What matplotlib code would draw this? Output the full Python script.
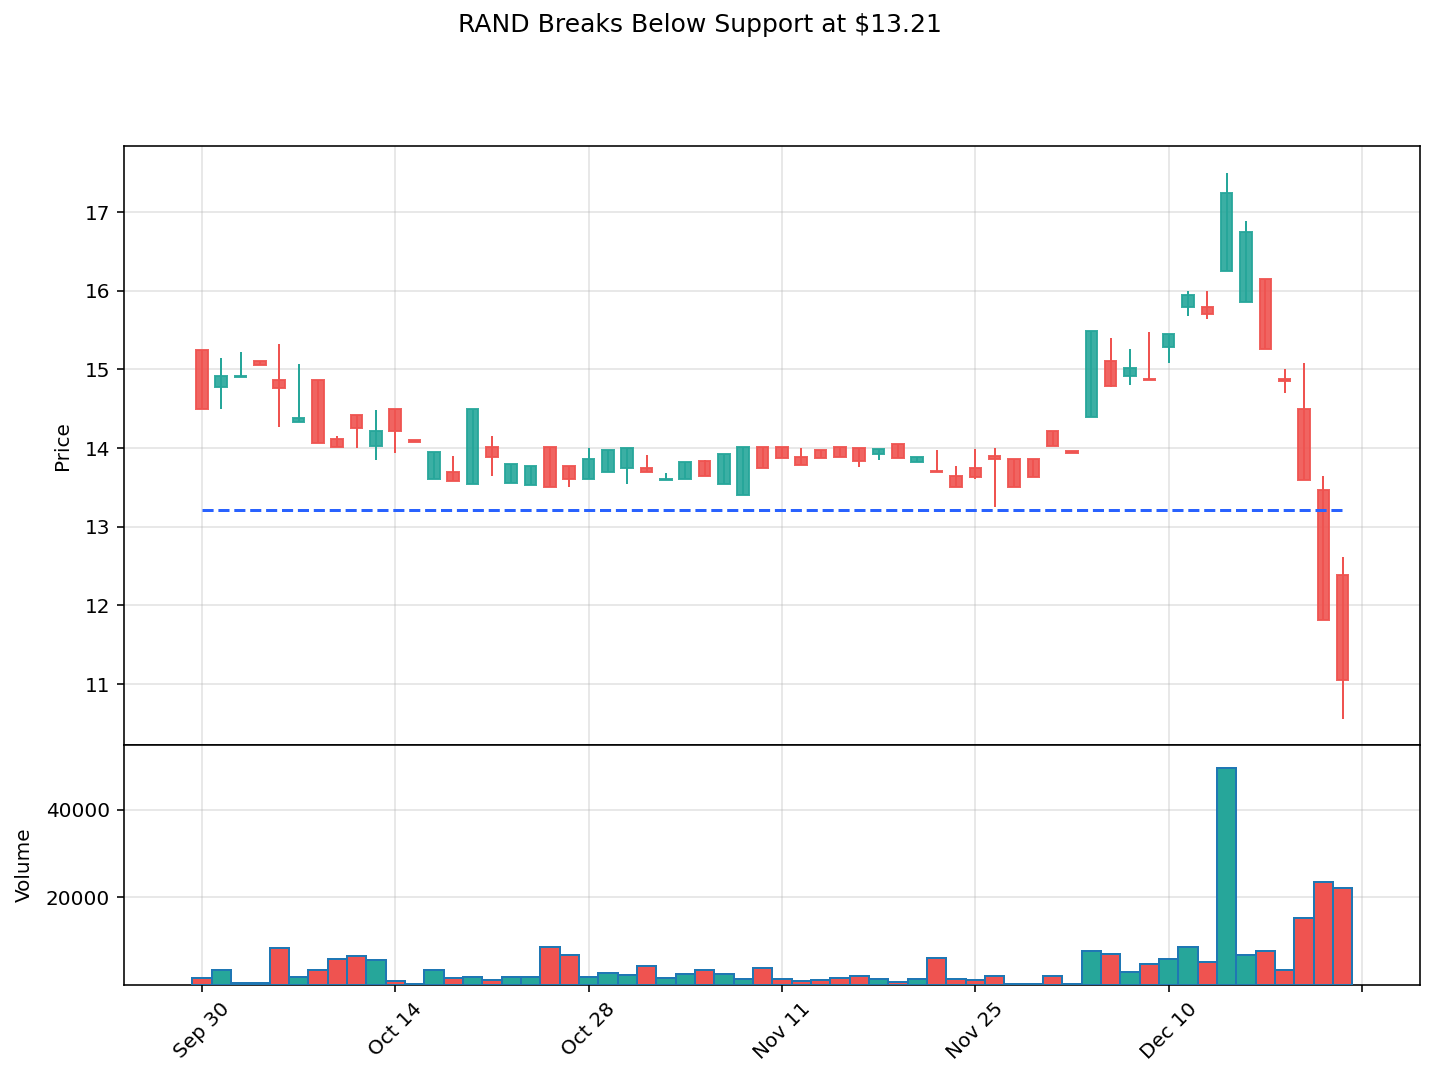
import matplotlib
matplotlib.use("Agg")
import matplotlib.pyplot as plt
import numpy as np
import pandas as pd

# ---- data ----
dates = [d for d in pd.bdate_range("2024-09-30", "2024-12-23") if d != pd.Timestamp("2024-11-28")]

opens = [15.24, 14.78, 14.90, 15.10, 14.86, 14.33, 14.86, 14.11, 14.42, 14.03,
         14.49, 14.10, 13.60, 13.70, 13.54, 14.01, 13.55, 13.53, 14.01, 13.77,
         13.61, 13.69, 13.74, 13.75, 13.59, 13.60, 13.83, 13.54, 13.40, 14.01,
         14.01, 13.88, 13.98, 14.01, 14.00, 13.92, 14.05, 13.82, 13.71, 13.65,
         13.75, 13.90, 13.86, 13.86, 14.22, 13.96, 14.39, 15.10, 14.91, 14.88,
         15.28, 15.79, 15.79, 16.25, 15.86, 16.15, 14.88, 14.50, 13.47, 12.39]
highs = [15.24, 15.14, 15.22, 15.10, 15.32, 15.07, 14.86, 14.15, 14.42, 14.48,
         14.49, 14.10, 13.95, 13.90, 14.49, 14.15, 13.80, 13.77, 14.01, 13.77,
         14.00, 13.97, 14.00, 13.91, 13.68, 13.82, 13.85, 13.93, 14.01, 14.01,
         14.01, 14.00, 13.98, 14.01, 14.00, 13.99, 14.05, 13.88, 13.97, 13.77,
         13.99, 14.00, 13.86, 13.86, 14.22, 13.96, 15.49, 15.40, 15.26, 15.47,
         15.45, 15.99, 15.99, 17.49, 16.88, 16.15, 15.00, 15.08, 13.64, 12.61]
lows = [14.50, 14.50, 14.90, 15.06, 14.27, 14.33, 14.06, 14.01, 14.00, 13.85,
        13.94, 14.08, 13.60, 13.58, 13.54, 13.65, 13.55, 13.53, 13.50, 13.51,
        13.61, 13.69, 13.54, 13.70, 13.59, 13.60, 13.65, 13.54, 13.40, 13.74,
        13.87, 13.79, 13.87, 13.88, 13.76, 13.85, 13.87, 13.82, 13.69, 13.50,
        13.60, 13.25, 13.50, 13.63, 14.02, 13.94, 14.39, 14.77, 14.80, 14.86,
        15.08, 15.68, 15.64, 16.25, 15.86, 15.26, 14.70, 13.59, 11.81, 10.56]
closes = [14.50, 14.92, 14.92, 15.06, 14.76, 14.38, 14.06, 14.01, 14.25, 14.22,
          14.22, 14.08, 13.95, 13.58, 14.49, 13.89, 13.80, 13.77, 13.50, 13.61,
          13.86, 13.97, 14.00, 13.70, 13.61, 13.82, 13.65, 13.93, 14.01, 13.74,
          13.87, 13.79, 13.87, 13.89, 13.84, 13.99, 13.87, 13.88, 13.69, 13.50,
          13.63, 13.86, 13.50, 13.63, 14.02, 13.94, 15.49, 14.79, 15.02, 14.86,
          15.45, 15.95, 15.70, 17.24, 16.75, 15.26, 14.85, 13.59, 11.81, 11.05]
volumes = [1670, 3340, 380, 530, 8500, 1900, 3340, 6000, 6680, 5770,
           990, 300, 3490, 1670, 1900, 1060, 1900, 1900, 8730, 6910,
           1900, 2810, 2350, 4400, 1670, 2580, 3490, 2580, 1290, 3950,
           1440, 990, 1210, 1670, 2130, 1440, 760, 1440, 6220, 1440,
           1210, 2130, 300, 300, 2130, 150, 7670, 7130, 2880, 4860,
           5840, 8730, 5160, 49490, 6910, 7820, 3340, 15330, 23530, 22240]

support = 13.21
title = "RAND Breaks Below Support at $13.21"
tick_idx = [0, 10, 20, 30, 40, 50, 60]

UP = "#26a69a"
DOWN = "#ef5350"

# ---- figure ----
W, H = 1435, 1082
DPI = 144
fig = plt.figure(figsize=(W / DPI, H / DPI), dpi=DPI)
left, right = 124 / W, 1420 / W
ax = fig.add_axes([left, 1 - 745 / H, right - left, (745 - 146) / H])
axv = fig.add_axes([left, 1 - 985 / H, right - left, (985 - 745) / H], sharex=ax)

x = np.arange(len(opens))
o = np.array(opens); c = np.array(closes); h = np.array(highs); l = np.array(lows)
up = c >= o
colors = np.where(up, UP, DOWN)

# wicks
ax.vlines(x, l, h, colors=colors, linewidth=1.0, zorder=2)
# bodies
body_bottom = np.minimum(o, c)
body_height = np.abs(c - o)
ax.bar(x, body_height, width=0.6, bottom=body_bottom, color=colors,
       edgecolor=colors, linewidth=1.0, alpha=0.9, zorder=3)

ax.hlines(support, 0, len(x) - 1, colors="#2962ff", linestyles="--",
          linewidth=1.5, zorder=4)

ax.set_ylabel("Price", labelpad=6)
ax.set_ylim(10.225, 17.839)
ax.grid(True, alpha=0.35)
ax.tick_params(axis="x", which="both", bottom=False, labelbottom=False)

# volume
axv.bar(x, volumes, width=1.0, color=colors, edgecolor="#1f77b4",
        linewidth=1.0, zorder=3)
axv.set_ylabel("Volume", labelpad=6)
axv.set_ylim(0, max(volumes) * 1.108)
axv.set_yticks([20000, 40000])
axv.grid(True, alpha=0.35)

labels = [dates[i].strftime("%b %d") if i < len(dates) else "" for i in tick_idx]
axv.set_xticks(tick_idx)
axv.set_xticklabels(labels, rotation=45)
axv.set_xlim(-4.03, 63.0)

fig.text(700 / W, 1 - 25 / H, title, ha="center", va="center", fontsize=12.5)

fig.savefig("out.png", dpi=DPI)
